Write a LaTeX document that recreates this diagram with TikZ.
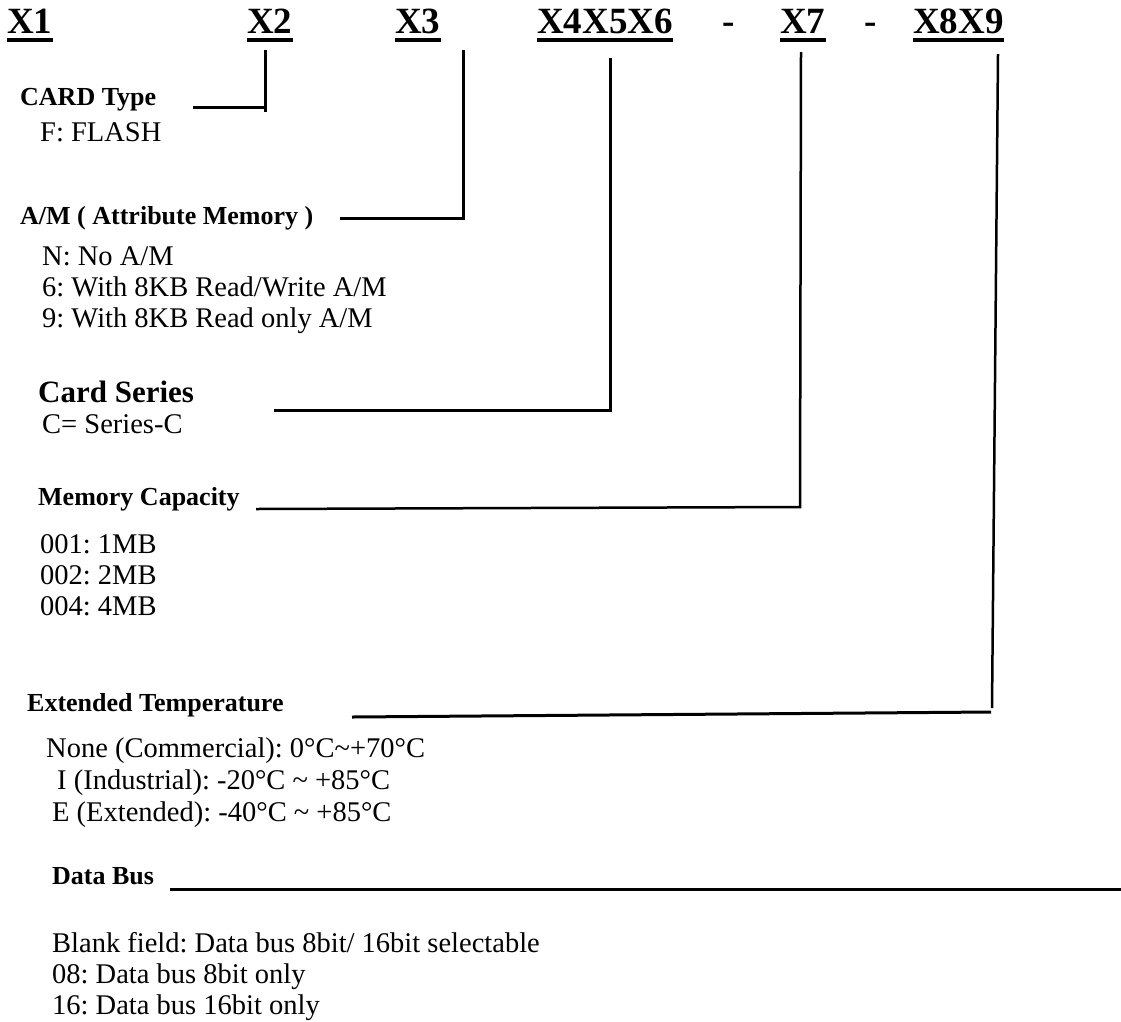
\documentclass[tikz,border=0pt]{standalone}
\usepackage{fontspec}
\setmainfont{Liberation Serif}
\frenchspacing
\begin{document}
\begin{tikzpicture}[x=1pt,y=-1pt,
  hdr/.style={inner sep=0pt,anchor=base west,font=\fontsize{37}{37}\selectfont\bfseries},
  lbl/.style={inner sep=0pt,anchor=base west,font=\fontsize{26}{26}\selectfont\bfseries},
  big/.style={inner sep=0pt,anchor=base west,font=\fontsize{31}{31}\selectfont\bfseries},
  txt/.style={inner sep=0pt,anchor=base west,font=\fontsize{28.5}{28.5}\selectfont},
  ln/.style={line width=3pt},
  lnt/.style={line width=2.5pt},
  ul/.style={line width=3.5pt}]
\useasboundingbox (0,0) rectangle (1121,1021);
% header
\node[hdr] (x1) at (7,33) {X1};
\node[hdr] (x2) at (247,33) {X2};
\node[hdr] (x3) at (395,33) {X3};
\node[hdr] (x456) at (537,33) {X4X5X6};
\node[hdr] (d1) at (722,33) {-};
\node[hdr] (x7) at (780,33) {X7};
\node[hdr] (d2) at (864,33) {-};
\node[hdr] (x89) at (913,33) {X8X9};
\foreach \n in {x1,x2,x3,x456,x7,x89}
  \draw[ul] (\n.base west) ++(0,7) coordinate (\n-ua) -- (\n-ua -| \n.base east);
% labels and values
\node[lbl] (card) at (20,105) {CARD Type};
\node[txt] (flash) at (40,141) {F: FLASH};
\node[lbl] (am) at (20,224) {A/M ( Attribute Memory )};
\node[txt] (am1) at (42,265) {N: No A/M};
\node[txt] (am2) at (42,296) {6: With 8KB Read/Write A/M};
\node[txt] (am3) at (42,327) {9: With 8KB Read only A/M};
\node[big] (series) at (38,402) {Card Series};
\node[txt] (ser1) at (42,433) {C= Series-C};
\node[lbl] (mem) at (38,505) {Memory Capacity};
\node[txt] (mem1) at (40,553) {001: 1MB};
\node[txt] (mem2) at (40,584) {002: 2MB};
\node[txt] (mem3) at (40,615) {004: 4MB};
\node[lbl] (temp) at (27,711) {Extended Temperature};
\node[txt] (t1) at (46,757) {None (Commercial): 0°C\textasciitilde+70°C};
\node[txt] (t2) at (57,789) {I (Industrial): -20°C \textasciitilde\ +85°C};
\node[txt] (t3) at (52,821) {E (Extended): -40°C \textasciitilde\ +85°C};
\node[lbl] (bus) at (52,884) {Data Bus};
\node[txt] (b1) at (52,952) {Blank field: Data bus 8bit/ 16bit selectable};
\node[txt] (b2) at (52,983) {08: Data bus 8bit only};
\node[txt] (b3) at (52,1014) {16: Data bus 16bit only};
% connector coordinates
\coordinate (c2t) at (265,50);  \coordinate (c2b) at (265,112);
\coordinate (c2l) at (193,107); \coordinate (c2r) at (265,107);
\coordinate (c3t) at (463,50);  \coordinate (c3c) at (463,218);
\coordinate (c3l) at (340,218);
\coordinate (c4t) at (610,58);  \coordinate (c4c) at (610,410);
\coordinate (c4l) at (274,410);
\coordinate (c7t) at (801,52);  \coordinate (c7c) at (800,507);
\coordinate (c7l) at (256,509);
\coordinate (c8t) at (998,54);  \coordinate (c8b) at (992,708);
\coordinate (c8l) at (352,717); \coordinate (c8r) at (991,712);
\coordinate (c9l) at (170,889); \coordinate (c9r) at (1121,889);
% connectors
\draw[ln] (c2t) -- (c2b);
\draw[ln] (c2l) -- (c2r);
\draw[ln] (c3t) -- (c3c) -- (c3l);
\draw[ln] (c4t) -- (c4c) -- (c4l);
\draw[lnt] (c7t) -- (c7c) -- (c7l);
\draw[lnt] (c8t) -- (c8b);
\draw[ln] (c8l) -- (c8r);
\draw[ln] (c9l) -- (c9r);
\end{tikzpicture}
\end{document}
